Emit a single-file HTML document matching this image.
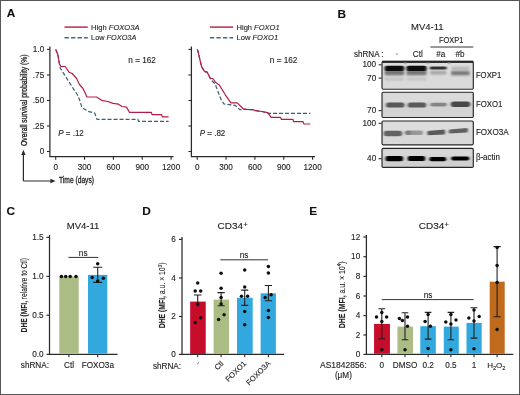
<!DOCTYPE html><html><head><meta charset="utf-8"><style>
html,body{margin:0;padding:0;background:#fff;}
body{width:520px;height:395px;overflow:hidden;}
svg{display:block;font-family:"Liberation Sans", sans-serif;}
text{stroke:#222;stroke-width:0.12px;}
text.nb{stroke:none;}
</style></head><body>
<svg width="520" height="395" viewBox="0 0 520 395">
<defs>
<filter id="bl1" x="-20%" y="-50%" width="140%" height="200%"><feGaussianBlur stdDeviation="0.9 0.7"/></filter>
<filter id="bl2" x="-20%" y="-50%" width="140%" height="200%"><feGaussianBlur stdDeviation="1.2 1.0"/></filter>
<filter id="soft" x="0" y="0" width="520" height="395" filterUnits="userSpaceOnUse"><feGaussianBlur stdDeviation="0.25"/></filter>
</defs>
<rect x="0" y="0" width="520" height="395" fill="#fff"/>
<g filter="url(#soft)">

<text x="6.8" y="16.8" font-size="11.8" text-anchor="start" font-weight="bold" font-style="normal" fill="#111" >A</text>
<text x="337.6" y="18.1" font-size="11.8" text-anchor="start" font-weight="bold" font-style="normal" fill="#111" >B</text>
<text x="6.6" y="215" font-size="11.8" text-anchor="start" font-weight="bold" font-style="normal" fill="#111" >C</text>
<text x="142.2" y="215" font-size="11.8" text-anchor="start" font-weight="bold" font-style="normal" fill="#111" >D</text>
<text x="309.3" y="215.2" font-size="11.8" text-anchor="start" font-weight="bold" font-style="normal" fill="#111" >E</text>
<path d="M49.9 46.5 V156.5 H173.5" fill="none" stroke="#2c2c2c" stroke-width="1.25"/>
<line x1="46.9" y1="49.4" x2="49.9" y2="49.4" stroke="#2c2c2c" stroke-width="1.1" />
<text x="44.2" y="52.0" font-size="8.2" text-anchor="end" font-weight="normal" font-style="normal" fill="#222" >1.0</text>
<line x1="46.9" y1="75" x2="49.9" y2="75" stroke="#2c2c2c" stroke-width="1.1" />
<text x="44.2" y="77.6" font-size="8.2" text-anchor="end" font-weight="normal" font-style="normal" fill="#222" >.75</text>
<line x1="46.9" y1="100.5" x2="49.9" y2="100.5" stroke="#2c2c2c" stroke-width="1.1" />
<text x="44.2" y="103.1" font-size="8.2" text-anchor="end" font-weight="normal" font-style="normal" fill="#222" >.50</text>
<line x1="46.9" y1="126" x2="49.9" y2="126" stroke="#2c2c2c" stroke-width="1.1" />
<text x="44.2" y="128.6" font-size="8.2" text-anchor="end" font-weight="normal" font-style="normal" fill="#222" >.25</text>
<line x1="46.9" y1="151.5" x2="49.9" y2="151.5" stroke="#2c2c2c" stroke-width="1.1" />
<text x="44.2" y="154.1" font-size="8.2" text-anchor="end" font-weight="normal" font-style="normal" fill="#222" >0</text>
<line x1="55.7" y1="156.5" x2="55.7" y2="159.8" stroke="#2c2c2c" stroke-width="1.1" />
<text x="55.7" y="170" font-size="8.2" text-anchor="middle" font-weight="normal" font-style="normal" fill="#222" >0</text>
<line x1="84.55000000000001" y1="156.5" x2="84.55000000000001" y2="159.8" stroke="#2c2c2c" stroke-width="1.1" />
<text x="84.55000000000001" y="170" font-size="8.2" text-anchor="middle" font-weight="normal" font-style="normal" fill="#222" >300</text>
<line x1="113.4" y1="156.5" x2="113.4" y2="159.8" stroke="#2c2c2c" stroke-width="1.1" />
<text x="113.4" y="170" font-size="8.2" text-anchor="middle" font-weight="normal" font-style="normal" fill="#222" >600</text>
<line x1="142.25" y1="156.5" x2="142.25" y2="159.8" stroke="#2c2c2c" stroke-width="1.1" />
<text x="142.25" y="170" font-size="8.2" text-anchor="middle" font-weight="normal" font-style="normal" fill="#222" >900</text>
<line x1="171.10000000000002" y1="156.5" x2="171.10000000000002" y2="159.8" stroke="#2c2c2c" stroke-width="1.1" />
<text x="171.10000000000002" y="170" font-size="8.2" text-anchor="middle" font-weight="normal" font-style="normal" fill="#222" >1200</text>
<line x1="64.5" y1="27.1" x2="87.8" y2="27.1" stroke="#bb2a4c" stroke-width="1.5" />
<line x1="64.5" y1="37.7" x2="87.8" y2="37.7" stroke="#4a6784" stroke-width="1.4" stroke-dasharray="4.4 2.1"/>
<text x="91.1" y="29.8" font-size="7.8" fill="#222" textLength="48.4" lengthAdjust="spacingAndGlyphs">High <tspan font-style="italic">FOXO3A</tspan></text>
<text x="91.1" y="40.3" font-size="7.8" fill="#222" textLength="45.2" lengthAdjust="spacingAndGlyphs">Low <tspan font-style="italic">FOXO3A</tspan></text>
<text x="128.3" y="63.0" font-size="8.2" text-anchor="start" font-weight="normal" font-style="normal" fill="#222" textLength="27.6" lengthAdjust="spacingAndGlyphs" >n = 162</text>
<text x="58.2" y="135.6" font-size="8.2" fill="#222" textLength="25.6" lengthAdjust="spacingAndGlyphs"><tspan font-style="italic">P</tspan> = .12</text>
<polyline points="55.7,49.4 57.8,54.5 59.5,64.0 60.1,67.8 70.6,84.4 77.5,95.0 79.5,99.5 82.0,107.8 89.0,111.6 94.7,113.0 96.6,118.5 97.0,119.3 138.0,119.3 138.5,121.3 168.6,121.3" fill="none" stroke="#3b5b72" stroke-width="1.2" stroke-dasharray="4 2" stroke-linejoin="round"/>
<polyline points="55.7,49.4 57.8,54.5 59.5,64.0 60.8,66.5 65.2,66.5 69.0,72.2 72.2,73.5 76.6,78.5 79.5,84.5 83.0,88.5 87.0,97.0 96.6,97.0 101.6,100.3 108.0,101.5 113.0,103.4 118.5,104.2 121.9,106.5 126.5,107.1 129.4,112.3 151.3,112.3 152.1,114.6 161.7,114.6 162.3,116.9 168.6,116.9" fill="none" stroke="#b51e45" stroke-width="1.2" stroke-linejoin="round"/>
<path d="M191.4 46.5 V156.5 H315.0" fill="none" stroke="#2c2c2c" stroke-width="1.25"/>
<line x1="188.4" y1="49.4" x2="191.4" y2="49.4" stroke="#2c2c2c" stroke-width="1.1" />
<line x1="188.4" y1="75" x2="191.4" y2="75" stroke="#2c2c2c" stroke-width="1.1" />
<line x1="188.4" y1="100.5" x2="191.4" y2="100.5" stroke="#2c2c2c" stroke-width="1.1" />
<line x1="188.4" y1="126" x2="191.4" y2="126" stroke="#2c2c2c" stroke-width="1.1" />
<line x1="188.4" y1="151.5" x2="191.4" y2="151.5" stroke="#2c2c2c" stroke-width="1.1" />
<line x1="197.2" y1="156.5" x2="197.2" y2="159.8" stroke="#2c2c2c" stroke-width="1.1" />
<text x="197.2" y="170" font-size="8.2" text-anchor="middle" font-weight="normal" font-style="normal" fill="#222" >0</text>
<line x1="226.04999999999998" y1="156.5" x2="226.04999999999998" y2="159.8" stroke="#2c2c2c" stroke-width="1.1" />
<text x="226.04999999999998" y="170" font-size="8.2" text-anchor="middle" font-weight="normal" font-style="normal" fill="#222" >300</text>
<line x1="254.89999999999998" y1="156.5" x2="254.89999999999998" y2="159.8" stroke="#2c2c2c" stroke-width="1.1" />
<text x="254.89999999999998" y="170" font-size="8.2" text-anchor="middle" font-weight="normal" font-style="normal" fill="#222" >600</text>
<line x1="283.75" y1="156.5" x2="283.75" y2="159.8" stroke="#2c2c2c" stroke-width="1.1" />
<text x="283.75" y="170" font-size="8.2" text-anchor="middle" font-weight="normal" font-style="normal" fill="#222" >900</text>
<line x1="312.6" y1="156.5" x2="312.6" y2="159.8" stroke="#2c2c2c" stroke-width="1.1" />
<text x="312.6" y="170" font-size="8.2" text-anchor="middle" font-weight="normal" font-style="normal" fill="#222" >1200</text>
<line x1="209.9" y1="27.1" x2="233.20000000000002" y2="27.1" stroke="#bb2a4c" stroke-width="1.5" />
<line x1="209.9" y1="37.7" x2="233.20000000000002" y2="37.7" stroke="#4a6784" stroke-width="1.4" stroke-dasharray="4.4 2.1"/>
<text x="236.5" y="29.8" font-size="7.8" fill="#222" textLength="43.2" lengthAdjust="spacingAndGlyphs">High <tspan font-style="italic">FOXO1</tspan></text>
<text x="236.5" y="40.3" font-size="7.8" fill="#222" textLength="41.6" lengthAdjust="spacingAndGlyphs">Low <tspan font-style="italic">FOXO1</tspan></text>
<text x="269.8" y="63.0" font-size="8.2" text-anchor="start" font-weight="normal" font-style="normal" fill="#222" textLength="27.6" lengthAdjust="spacingAndGlyphs" >n = 162</text>
<text x="199.7" y="135.6" font-size="8.2" fill="#222" textLength="25.6" lengthAdjust="spacingAndGlyphs"><tspan font-style="italic">P</tspan> = .82</text>
<polyline points="197.3,49.4 198.3,52.6 201.5,66.5 204.7,71.6 207.2,72.2 210.4,78.5 211.5,80.5 215.0,83.8 221.4,100.3 224.0,104.0 235.3,105.3 239.7,109.7 246.0,109.4 253.0,109.7 255.6,110.6 261.9,111.5 267.7,112.9 268.5,113.3 310.4,113.3" fill="none" stroke="#3b5b72" stroke-width="1.2" stroke-dasharray="4 2" stroke-linejoin="round"/>
<polyline points="197.3,49.4 198.3,52.6 201.5,66.5 204.7,71.6 207.2,72.2 210.4,78.5 212.9,78.5 215.4,82.3 219.2,84.9 225.3,94.8 230.9,102.8 237.2,102.8 242.9,108.5 246.0,109.4 253.0,109.7 255.6,110.6 261.9,111.5 267.7,112.7 271.1,117.3 280.4,117.3 281.5,119.4 293.0,119.4 293.6,121.6 302.9,121.6 304.0,124.0 310.4,124.0" fill="none" stroke="#b51e45" stroke-width="1.2" stroke-linejoin="round"/>
<path d="M23.4 181 V153.5 M23.4 181 H52" fill="none" stroke="#2c2c2c" stroke-width="1.2"/>
<path d="M23.4 149.8 L21.2 155 L25.6 155 Z" fill="#2c2c2c"/>
<path d="M55.6 181 L50.4 178.8 L50.4 183.2 Z" fill="#2c2c2c"/>
<text x="59" y="183.4" font-size="9" text-anchor="start" font-weight="normal" font-style="normal" fill="#222" textLength="35" lengthAdjust="spacingAndGlyphs" style="stroke-width:0.3px">Time (days)</text>
<text transform="translate(26.5,146) rotate(-90)" x="0" y="0" font-size="9.2" fill="#222" style="stroke-width:0.3px" textLength="91.6" lengthAdjust="spacingAndGlyphs">Overall survival probability (%)</text>
<text x="427.3" y="30.3" font-size="9.4" text-anchor="middle" font-weight="normal" font-style="normal" fill="#222" textLength="32.6" lengthAdjust="spacingAndGlyphs" >MV4-11</text>
<text x="451.2" y="43.1" font-size="8.2" text-anchor="middle" font-weight="normal" font-style="normal" fill="#222" textLength="24.3" lengthAdjust="spacingAndGlyphs" >FOXP1</text>
<line x1="430.4" y1="47" x2="473.3" y2="47" stroke="#333" stroke-width="1.0" />
<text x="354" y="57.2" font-size="8.2" text-anchor="start" font-weight="normal" font-style="normal" fill="#222" textLength="29.6" lengthAdjust="spacingAndGlyphs" >shRNA :</text>
<rect x="396.3" y="53.5" width="1.3" height="1.2" fill="#666"/>
<text x="417.8" y="57.2" font-size="8.2" text-anchor="middle" font-weight="normal" font-style="normal" fill="#222" >Ctl</text>
<text x="440.7" y="57.2" font-size="8.2" text-anchor="middle" font-weight="normal" font-style="normal" fill="#222" >#a</text>
<text x="460.1" y="57.2" font-size="8.2" text-anchor="middle" font-weight="normal" font-style="normal" fill="#222" >#b</text>
<rect x="382" y="61.6" width="91.3" height="27.6" rx="1.2" fill="#dadada"/>
<rect x="382" y="92.2" width="91.3" height="25.3" rx="1.2" fill="#d3d3d3"/>
<rect x="382" y="121" width="91.3" height="23.8" rx="1.2" fill="#d8d8d8"/>
<rect x="382" y="148.4" width="91.3" height="19.0" rx="1.2" fill="#cfcfcf"/>
<rect x="383" y="62.6" width="89.3" height="9.7" fill="#e2e2e2" opacity="0.5" filter="url(#bl2)"/>
<rect x="383" y="93.2" width="89.3" height="8.9" fill="#e2e2e2" opacity="0.5" filter="url(#bl2)"/>
<rect x="383" y="122" width="89.3" height="8.3" fill="#e2e2e2" opacity="0.5" filter="url(#bl2)"/>
<rect x="383" y="149.4" width="89.3" height="6.6" fill="#e2e2e2" opacity="0.5" filter="url(#bl2)"/>
<rect x="384.6" y="69.90" width="19.60" height="5.4" rx="1.5" fill="#727272" opacity="1" filter="url(#bl2)"/>
<rect x="406.4" y="69.90" width="20.20" height="5.4" rx="1.5" fill="#767676" opacity="1" filter="url(#bl2)"/>
<rect x="384.6" y="65.80" width="19.60" height="5.2" rx="2" fill="#0a0a0a" opacity="1" filter="url(#bl1)"/>
<rect x="406.4" y="65.80" width="20.20" height="5.2" rx="2" fill="#0c0c0c" opacity="1" filter="url(#bl1)"/>
<rect x="384.6" y="78.10" width="19.60" height="2.2" rx="1.1" fill="#bcbcbc" opacity="1" filter="url(#bl2)"/>
<rect x="406.4" y="78.10" width="20.20" height="2.2" rx="1.1" fill="#bfbfbf" opacity="1" filter="url(#bl2)"/>
<rect x="429.8" y="70.80" width="16.90" height="3.6" rx="1.8" fill="#a4a4a4" opacity="1" filter="url(#bl2)"/>
<rect x="429.8" y="66.40" width="16.90" height="3.2" rx="1.4" fill="#303030" opacity="1" filter="url(#bl1)"/>
<rect x="451" y="66.70" width="18.70" height="3.2" rx="1.6" fill="#b3b3b3" opacity="1" filter="url(#bl2)"/>
<rect x="451" y="71.10" width="18.70" height="4.2" rx="1.5" fill="#777" opacity="1" filter="url(#bl2)"/>
<rect x="382.2" y="60.7" width="91" height="2.1" fill="#0d0d0d"/>
<rect x="404.4" y="61.6" width="2" height="2.6" fill="#9a9a9a" filter="url(#bl1)"/>
<rect x="427.2" y="61.6" width="2" height="2.6" fill="#9a9a9a" filter="url(#bl1)"/>
<rect x="448" y="61.6" width="2" height="2.6" fill="#9a9a9a" filter="url(#bl1)"/>
<rect x="386" y="102.40" width="18.50" height="5.2" rx="2.6" fill="#585858" opacity="1" filter="url(#bl1)"/>
<rect x="407.7" y="102.40" width="18.50" height="5.2" rx="2.6" fill="#5a5a5a" opacity="1" filter="url(#bl1)"/>
<rect x="430.3" y="102.70" width="16.40" height="3.8" rx="1.9" fill="#858585" opacity="1" filter="url(#bl1)"/>
<rect x="450.8" y="101.50" width="19.40" height="5.4" rx="2.7" fill="#474747" opacity="1" filter="url(#bl1)"/>
<rect x="383.7" y="130.80" width="18.50" height="5.4" rx="2.7" fill="#646464" opacity="1" filter="url(#bl1)"/>
<rect x="405" y="130.60" width="18.00" height="4.4" rx="2.2" fill="#999" opacity="1" filter="url(#bl1)"/>
<rect x="405.5" y="130.70" width="5.50" height="4.2" rx="2.1" fill="#7a7a7a" opacity="1" filter="url(#bl1)"/>
<g filter="url(#bl1)"><path d="M427.8 131 L444.6 129.6 Q446 132 444.6 134.4 L427.8 135.2 Q426.4 133 427.8 131 Z" fill="#5a5a5a"/><path d="M449.4 129.6 L467.4 128 Q468.8 130.3 467.4 132.6 L449.4 133.6 Q448 131.6 449.4 129.6 Z" fill="#606060"/></g>
<rect x="385.5" y="156.05" width="17.60" height="5.1" rx="2.2" fill="#020202" opacity="1" filter="url(#bl1)"/>
<rect x="407.7" y="156.10" width="17.50" height="5" rx="2.2" fill="#020202" opacity="1" filter="url(#bl1)"/>
<rect x="429.4" y="156.90" width="16.80" height="4.4" rx="2" fill="#030303" opacity="1" filter="url(#bl1)"/>
<rect x="451.2" y="156.40" width="18.10" height="4.2" rx="2" fill="#050505" opacity="1" filter="url(#bl1)"/>
<rect x="382" y="61.6" width="91.3" height="27.6" rx="1.2" fill="none" stroke="#262626" stroke-width="1.15"/>
<rect x="382" y="92.2" width="91.3" height="25.3" rx="1.2" fill="none" stroke="#262626" stroke-width="1.15"/>
<rect x="382" y="121" width="91.3" height="23.8" rx="1.2" fill="none" stroke="#262626" stroke-width="1.15"/>
<rect x="382" y="148.4" width="91.3" height="19.0" rx="1.2" fill="none" stroke="#262626" stroke-width="1.15"/>
<text x="376.2" y="67.39999999999999" font-size="8.2" text-anchor="end" font-weight="normal" font-style="normal" fill="#222" >100</text>
<line x1="378.6" y1="64.8" x2="381.5" y2="64.8" stroke="#2c2c2c" stroke-width="1.1" />
<text x="376.2" y="80.69999999999999" font-size="8.2" text-anchor="end" font-weight="normal" font-style="normal" fill="#222" >70</text>
<line x1="378.6" y1="78.1" x2="381.5" y2="78.1" stroke="#2c2c2c" stroke-width="1.1" />
<text x="376.2" y="113.19999999999999" font-size="8.2" text-anchor="end" font-weight="normal" font-style="normal" fill="#222" >70</text>
<line x1="378.6" y1="110.6" x2="381.5" y2="110.6" stroke="#2c2c2c" stroke-width="1.1" />
<text x="376.2" y="125.89999999999999" font-size="8.2" text-anchor="end" font-weight="normal" font-style="normal" fill="#222" >100</text>
<line x1="378.6" y1="123.3" x2="381.5" y2="123.3" stroke="#2c2c2c" stroke-width="1.1" />
<text x="376.2" y="161.29999999999998" font-size="8.2" text-anchor="end" font-weight="normal" font-style="normal" fill="#222" >40</text>
<line x1="378.6" y1="158.7" x2="381.5" y2="158.7" stroke="#2c2c2c" stroke-width="1.1" />
<text x="475.9" y="77.5" font-size="8.2" text-anchor="start" font-weight="normal" font-style="normal" fill="#222" textLength="25.4" lengthAdjust="spacingAndGlyphs" >FOXP1</text>
<text x="475.9" y="107.10000000000001" font-size="8.2" text-anchor="start" font-weight="normal" font-style="normal" fill="#222" textLength="26.4" lengthAdjust="spacingAndGlyphs" >FOXO1</text>
<text x="475.9" y="135.2" font-size="8.2" text-anchor="start" font-weight="normal" font-style="normal" fill="#222" textLength="32.8" lengthAdjust="spacingAndGlyphs" >FOXO3A</text>
<text x="475.9" y="160.2" font-size="8.2" text-anchor="start" font-weight="normal" font-style="normal" fill="#222" textLength="24" lengthAdjust="spacingAndGlyphs" >β-actin</text>
<text x="83.1" y="228.8" font-size="9.4" text-anchor="middle" font-weight="normal" font-style="normal" fill="#222" textLength="32.6" lengthAdjust="spacingAndGlyphs" >MV4-11</text>
<path d="M49.5 235 V354.4 H117.6" fill="none" stroke="#2c2c2c" stroke-width="1.25"/>
<line x1="46.5" y1="237.4" x2="49.5" y2="237.4" stroke="#2c2c2c" stroke-width="1.2" />
<text x="43.6" y="240.1" font-size="8.2" text-anchor="end" font-weight="normal" font-style="normal" fill="#222" >1.5</text>
<line x1="46.5" y1="276.4" x2="49.5" y2="276.4" stroke="#2c2c2c" stroke-width="1.2" />
<text x="43.6" y="279.09999999999997" font-size="8.2" text-anchor="end" font-weight="normal" font-style="normal" fill="#222" >1.0</text>
<line x1="46.5" y1="315.2" x2="49.5" y2="315.2" stroke="#2c2c2c" stroke-width="1.2" />
<text x="43.6" y="317.9" font-size="8.2" text-anchor="end" font-weight="normal" font-style="normal" fill="#222" >0.5</text>
<line x1="46.5" y1="354.4" x2="49.5" y2="354.4" stroke="#2c2c2c" stroke-width="1.2" />
<text x="43.6" y="357.09999999999997" font-size="8.2" text-anchor="end" font-weight="normal" font-style="normal" fill="#222" >0.0</text>
<rect x="59.3" y="276.4" width="19.400000000000006" height="77.30000000000001" fill="#abbd85"/>
<rect x="88" y="274.9" width="19.299999999999997" height="78.80000000000001" fill="#31a8de"/>
<line x1="68.9" y1="354.4" x2="68.9" y2="357.3" stroke="#2c2c2c" stroke-width="1.1" />
<line x1="97.7" y1="354.4" x2="97.7" y2="357.3" stroke="#2c2c2c" stroke-width="1.1" />
<circle cx="61.4" cy="276.5" r="1.75" fill="#111"/>
<circle cx="65.7" cy="276.5" r="1.75" fill="#111"/>
<circle cx="70.2" cy="276.5" r="1.75" fill="#111"/>
<circle cx="76" cy="276.5" r="1.75" fill="#111"/>
<path d="M97.7 267.2 V282.4 M93.2 267.2 H102.2 M93.2 282.4 H102.2" stroke="#222" stroke-width="1.1" fill="none"/>
<circle cx="97.7" cy="263.7" r="1.75" fill="#111"/>
<circle cx="92.2" cy="277.4" r="1.75" fill="#111"/>
<circle cx="103.3" cy="278.3" r="1.75" fill="#111"/>
<circle cx="97.7" cy="280.9" r="1.75" fill="#111"/>
<line x1="68.4" y1="257.4" x2="98.3" y2="257.4" stroke="#333" stroke-width="1.0" />
<text x="83.2" y="255.6" font-size="8.2" text-anchor="middle" font-weight="normal" font-style="normal" fill="#222" >ns</text>
<text x="49" y="367.8" font-size="8.2" text-anchor="end" font-weight="normal" font-style="normal" fill="#222" >shRNA:</text>
<text x="69" y="367.8" font-size="8.2" text-anchor="middle" font-weight="normal" font-style="normal" fill="#222" >Ctl</text>
<text x="97.8" y="367.8" font-size="8.2" text-anchor="middle" font-weight="normal" font-style="normal" fill="#222" >FOXO3a</text>
<text transform="translate(26.8,332.4) rotate(-90)" font-size="9" fill="#222" textLength="74.3" lengthAdjust="spacingAndGlyphs"><tspan font-weight="bold">DHE (MFI, </tspan><tspan>relative to Ctl)</tspan></text>
<text x="217.5" y="228.8" font-size="9.4" fill="#222" textLength="25.5" lengthAdjust="spacingAndGlyphs">CD34</text><text x="243.2" y="227" font-size="7.6" fill="#222">+</text>
<path d="M182 237 V354.4 H284.2" fill="none" stroke="#2c2c2c" stroke-width="1.25"/>
<line x1="179" y1="239.4" x2="182" y2="239.4" stroke="#2c2c2c" stroke-width="1.2" />
<text x="175.8" y="242.0" font-size="8.2" text-anchor="end" font-weight="normal" font-style="normal" fill="#222" >6</text>
<line x1="179" y1="278" x2="182" y2="278" stroke="#2c2c2c" stroke-width="1.2" />
<text x="175.8" y="280.6" font-size="8.2" text-anchor="end" font-weight="normal" font-style="normal" fill="#222" >4</text>
<line x1="179" y1="316.5" x2="182" y2="316.5" stroke="#2c2c2c" stroke-width="1.2" />
<text x="175.8" y="319.1" font-size="8.2" text-anchor="end" font-weight="normal" font-style="normal" fill="#222" >2</text>
<line x1="179" y1="354.4" x2="182" y2="354.4" stroke="#2c2c2c" stroke-width="1.2" />
<text x="175.8" y="357.0" font-size="8.2" text-anchor="end" font-weight="normal" font-style="normal" fill="#222" >0</text>
<rect x="190.2" y="301.6" width="15.5" height="52.39999999999998" fill="#c6072b"/>
<rect x="213.6" y="299.6" width="15.400000000000006" height="54.39999999999998" fill="#abbd85"/>
<rect x="237" y="297.8" width="15.699999999999989" height="56.19999999999999" fill="#31a8de"/>
<rect x="260.6" y="293.3" width="15.299999999999955" height="60.69999999999999" fill="#31a8de"/>
<line x1="197.7" y1="354.4" x2="197.7" y2="357.3" stroke="#2c2c2c" stroke-width="1.1" />
<line x1="221.1" y1="354.4" x2="221.1" y2="357.3" stroke="#2c2c2c" stroke-width="1.1" />
<line x1="244.7" y1="354.4" x2="244.7" y2="357.3" stroke="#2c2c2c" stroke-width="1.1" />
<line x1="268.4" y1="354.4" x2="268.4" y2="357.3" stroke="#2c2c2c" stroke-width="1.1" />
<path d="M197.7 295 V307 M193.9 295 H201.5" stroke="#222" stroke-width="1.1" fill="none"/>
<path d="M221.1 292.6 V305.8 M217.5 292.6 H224.7 M217.5 305.8 H224.7" stroke="#222" stroke-width="1.1" fill="none"/>
<path d="M244.7 290.1 V305.4 M241.1 290.1 H248.29999999999998 M241.1 305.4 H248.29999999999998" stroke="#222" stroke-width="1.1" fill="none"/>
<path d="M268.4 285.5 V300.8 M264.79999999999995 285.5 H272.0 M264.79999999999995 300.8 H272.0" stroke="#222" stroke-width="1.1" fill="none"/>
<circle cx="197.7" cy="282.9" r="1.75" fill="#111"/>
<circle cx="195.2" cy="290.9" r="1.75" fill="#111"/>
<circle cx="200.7" cy="290.9" r="1.75" fill="#111"/>
<circle cx="197.7" cy="304.1" r="1.75" fill="#111"/>
<circle cx="200.7" cy="317.7" r="1.75" fill="#111"/>
<circle cx="195.2" cy="322.5" r="1.75" fill="#111"/>
<circle cx="221.1" cy="273.2" r="1.75" fill="#111"/>
<circle cx="221.1" cy="288.3" r="1.75" fill="#111"/>
<circle cx="221.1" cy="297.5" r="1.75" fill="#111"/>
<circle cx="221.1" cy="304.1" r="1.75" fill="#111"/>
<circle cx="224.1" cy="314.7" r="1.75" fill="#111"/>
<circle cx="218.6" cy="319.4" r="1.75" fill="#111"/>
<circle cx="244.7" cy="270" r="1.75" fill="#111"/>
<circle cx="244.7" cy="287.1" r="1.75" fill="#111"/>
<circle cx="241.5" cy="296.3" r="1.75" fill="#111"/>
<circle cx="247.6" cy="296.3" r="1.75" fill="#111"/>
<circle cx="244.7" cy="311.5" r="1.75" fill="#111"/>
<circle cx="244.7" cy="324.7" r="1.75" fill="#111"/>
<circle cx="268.4" cy="266.6" r="1.75" fill="#111"/>
<circle cx="268.4" cy="273" r="1.75" fill="#111"/>
<circle cx="271.1" cy="294.7" r="1.75" fill="#111"/>
<circle cx="265.2" cy="297.4" r="1.75" fill="#111"/>
<circle cx="268.4" cy="310.6" r="1.75" fill="#111"/>
<circle cx="268.4" cy="317.4" r="1.75" fill="#111"/>
<line x1="220.3" y1="259.8" x2="268.1" y2="259.8" stroke="#333" stroke-width="1.0" />
<text x="244" y="257.8" font-size="8.2" text-anchor="middle" font-weight="normal" font-style="normal" fill="#222" >ns</text>
<text x="181.1" y="369" font-size="8.2" text-anchor="end" font-weight="normal" font-style="normal" fill="#222" >shRNA:</text>
<path d="M197.4 363.9 L198.8 362.5" stroke="#444" stroke-width="1"/>
<text transform="translate(222.20000000000002,362.2) rotate(-45)" font-size="7.6" fill="#222" text-anchor="end" x="0" y="2.5">Ctl</text>
<text transform="translate(245.0,362.2) rotate(-45)" font-size="7.6" fill="#222" text-anchor="end" x="0" y="2.5">FOXO1</text>
<text transform="translate(269.29999999999995,362.2) rotate(-45)" font-size="7.6" fill="#222" text-anchor="end" x="0" y="2.5">FOXO3A</text>
<text transform="translate(165.2,328.3) rotate(-90)" font-size="9" fill="#222" textLength="65.8" lengthAdjust="spacingAndGlyphs"><tspan font-weight="bold">DHE (MFI, </tspan><tspan>a.u. × 10</tspan><tspan font-size="6" dy="-3.2">3</tspan><tspan dy="3.2">)</tspan></text>
<text x="418.8" y="228.8" font-size="9.4" fill="#222" textLength="25.5" lengthAdjust="spacingAndGlyphs">CD34</text><text x="444.4" y="227" font-size="7.6" fill="#222">+</text>
<path d="M366.4 235 V354.4 H513.3" fill="none" stroke="#2c2c2c" stroke-width="1.25"/>
<line x1="363.4" y1="237" x2="366.4" y2="237" stroke="#2c2c2c" stroke-width="1.2" />
<text x="360.2" y="239.6" font-size="8.2" text-anchor="end" font-weight="normal" font-style="normal" fill="#222" >12</text>
<line x1="363.4" y1="256.7" x2="366.4" y2="256.7" stroke="#2c2c2c" stroke-width="1.2" />
<text x="360.2" y="259.3" font-size="8.2" text-anchor="end" font-weight="normal" font-style="normal" fill="#222" >10</text>
<line x1="363.4" y1="276.4" x2="366.4" y2="276.4" stroke="#2c2c2c" stroke-width="1.2" />
<text x="360.2" y="279.0" font-size="8.2" text-anchor="end" font-weight="normal" font-style="normal" fill="#222" >8</text>
<line x1="363.4" y1="296" x2="366.4" y2="296" stroke="#2c2c2c" stroke-width="1.2" />
<text x="360.2" y="298.6" font-size="8.2" text-anchor="end" font-weight="normal" font-style="normal" fill="#222" >6</text>
<line x1="363.4" y1="315.6" x2="366.4" y2="315.6" stroke="#2c2c2c" stroke-width="1.2" />
<text x="360.2" y="318.20000000000005" font-size="8.2" text-anchor="end" font-weight="normal" font-style="normal" fill="#222" >4</text>
<line x1="363.4" y1="335" x2="366.4" y2="335" stroke="#2c2c2c" stroke-width="1.2" />
<text x="360.2" y="337.6" font-size="8.2" text-anchor="end" font-weight="normal" font-style="normal" fill="#222" >2</text>
<line x1="363.4" y1="354.4" x2="366.4" y2="354.4" stroke="#2c2c2c" stroke-width="1.2" />
<text x="360.2" y="357.0" font-size="8.2" text-anchor="end" font-weight="normal" font-style="normal" fill="#222" >0</text>
<rect x="374.1" y="323.9" width="15.799999999999955" height="29.900000000000034" fill="#c6072b"/>
<rect x="397.4" y="326.6" width="15.600000000000023" height="27.19999999999999" fill="#abbd85"/>
<rect x="420.3" y="326.2" width="15.5" height="27.600000000000023" fill="#31a8de"/>
<rect x="443.8" y="326.6" width="15.0" height="27.19999999999999" fill="#31a8de"/>
<rect x="466.5" y="322.9" width="15.199999999999989" height="30.900000000000034" fill="#31a8de"/>
<rect x="489.7" y="281.7" width="15.0" height="72.10000000000002" fill="#bf6a1a"/>
<line x1="381.8" y1="354.4" x2="381.8" y2="357.3" stroke="#2c2c2c" stroke-width="1.1" />
<line x1="405" y1="354.4" x2="405" y2="357.3" stroke="#2c2c2c" stroke-width="1.1" />
<line x1="428.1" y1="354.4" x2="428.1" y2="357.3" stroke="#2c2c2c" stroke-width="1.1" />
<line x1="450.9" y1="354.4" x2="450.9" y2="357.3" stroke="#2c2c2c" stroke-width="1.1" />
<line x1="474" y1="354.4" x2="474" y2="357.3" stroke="#2c2c2c" stroke-width="1.1" />
<line x1="497.1" y1="354.4" x2="497.1" y2="357.3" stroke="#2c2c2c" stroke-width="1.1" />
<path d="M381.8 308.7 V338.7 M378.40000000000003 308.7 H385.2 M378.40000000000003 338.7 H385.2" stroke="#222" stroke-width="1.1" fill="none"/>
<path d="M405 312.8 V339.7 M401.7 312.8 H408.3 M401.7 339.7 H408.3" stroke="#222" stroke-width="1.1" fill="none"/>
<path d="M428.1 312.4 V339.1 M424.8 312.4 H431.40000000000003 M424.8 339.1 H431.40000000000003" stroke="#222" stroke-width="1.1" fill="none"/>
<path d="M450.9 312.4 V339.7 M447.59999999999997 312.4 H454.2 M447.59999999999997 339.7 H454.2" stroke="#222" stroke-width="1.1" fill="none"/>
<path d="M474 307.7 V338.1 M470.6 307.7 H477.4 M470.6 338.1 H477.4" stroke="#222" stroke-width="1.1" fill="none"/>
<path d="M497.1 246.6 V316.8 M493.5 246.6 H500.70000000000005 M493.5 316.8 H500.70000000000005" stroke="#222" stroke-width="1.1" fill="none"/>
<circle cx="381.8" cy="312.4" r="1.75" fill="#111"/>
<circle cx="376.5" cy="317" r="1.75" fill="#111"/>
<circle cx="386.6" cy="317" r="1.75" fill="#111"/>
<circle cx="381.8" cy="321.5" r="1.75" fill="#111"/>
<circle cx="381.8" cy="349.8" r="1.75" fill="#111"/>
<circle cx="399.4" cy="318.5" r="1.75" fill="#111"/>
<circle cx="407.5" cy="317" r="1.75" fill="#111"/>
<circle cx="402.4" cy="320.5" r="1.75" fill="#111"/>
<circle cx="407.5" cy="326.2" r="1.75" fill="#111"/>
<circle cx="405" cy="349.8" r="1.75" fill="#111"/>
<circle cx="428.1" cy="314.4" r="1.75" fill="#111"/>
<circle cx="425.1" cy="321.5" r="1.75" fill="#111"/>
<circle cx="430.4" cy="326.2" r="1.75" fill="#111"/>
<circle cx="428.1" cy="348.4" r="1.75" fill="#111"/>
<circle cx="450.9" cy="314.4" r="1.75" fill="#111"/>
<circle cx="445.8" cy="322.1" r="1.75" fill="#111"/>
<circle cx="456" cy="320.1" r="1.75" fill="#111"/>
<circle cx="450.9" cy="324.1" r="1.75" fill="#111"/>
<circle cx="450.9" cy="349.8" r="1.75" fill="#111"/>
<circle cx="474" cy="310" r="1.75" fill="#111"/>
<circle cx="468.9" cy="318.1" r="1.75" fill="#111"/>
<circle cx="479.2" cy="316.4" r="1.75" fill="#111"/>
<circle cx="474" cy="320.9" r="1.75" fill="#111"/>
<circle cx="474" cy="348.8" r="1.75" fill="#111"/>
<circle cx="497.1" cy="247.4" r="1.75" fill="#111"/>
<circle cx="497.1" cy="265.6" r="1.75" fill="#111"/>
<circle cx="497.1" cy="282.6" r="1.75" fill="#111"/>
<circle cx="497.1" cy="329.6" r="1.75" fill="#111"/>
<line x1="381.8" y1="299.6" x2="473.6" y2="299.6" stroke="#333" stroke-width="1.0" />
<text x="428" y="297.6" font-size="8.2" text-anchor="middle" font-weight="normal" font-style="normal" fill="#222" >ns</text>
<text x="366.7" y="367.5" font-size="8.2" text-anchor="end" font-weight="normal" font-style="normal" fill="#222" textLength="46.7" lengthAdjust="spacingAndGlyphs" >AS1842856:</text>
<text x="343.4" y="377.5" font-size="8.2" text-anchor="middle" font-weight="normal" font-style="normal" fill="#222" >(μM)</text>
<text x="381.8" y="367.5" font-size="8.2" text-anchor="middle" font-weight="normal" font-style="normal" fill="#222" >0</text>
<text x="405" y="367.5" font-size="8.2" text-anchor="middle" font-weight="normal" font-style="normal" fill="#222" >DMSO</text>
<text x="428.1" y="367.5" font-size="8.2" text-anchor="middle" font-weight="normal" font-style="normal" fill="#222" >0.2</text>
<text x="450.9" y="367.5" font-size="8.2" text-anchor="middle" font-weight="normal" font-style="normal" fill="#222" >0.5</text>
<text x="474" y="367.5" font-size="8.2" text-anchor="middle" font-weight="normal" font-style="normal" fill="#222" >1</text>
<text x="487.2" y="367.8" font-size="8" fill="#222">H<tspan font-size="5.6" dy="2">2</tspan><tspan dy="-2">O</tspan><tspan font-size="5.6" dy="2">2</tspan></text>
<text transform="translate(344.6,328.2) rotate(-90)" font-size="9" fill="#222" textLength="66.8" lengthAdjust="spacingAndGlyphs"><tspan font-weight="bold">DHE (MFI, </tspan><tspan>a.u. × 10</tspan><tspan font-size="6" dy="-3.2">4</tspan><tspan dy="3.2">)</tspan></text>
</g>
<rect x="0.5" y="0.5" width="519" height="394" fill="none" stroke="#575757" stroke-width="1"/>
</svg></body></html>
